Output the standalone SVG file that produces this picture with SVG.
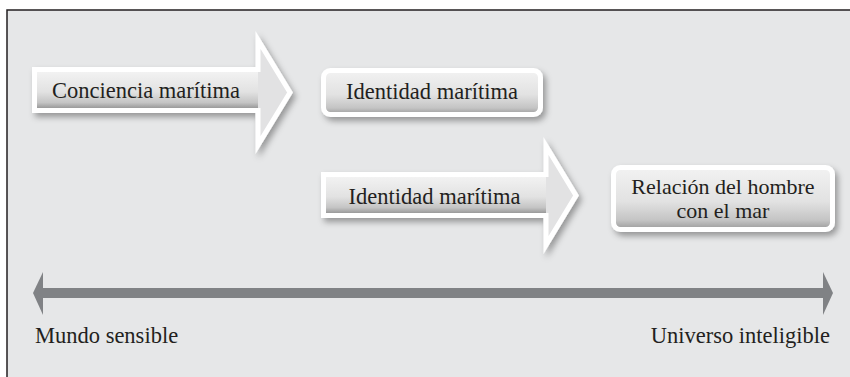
<svg xmlns="http://www.w3.org/2000/svg" width="850" height="377" viewBox="0 0 850 377">
<defs>
<style>
.t{font-family:'Liberation Serif','DejaVu Serif',serif;font-size:22.5px;fill:#231f20}
.arrow{fill:#e2e2e3;stroke:#ffffff;stroke-width:5;stroke-linejoin:miter;filter:url(#sh)}
.box{fill:url(#g);stroke:#ffffff;stroke-width:5;filter:url(#sh)}
.axis{fill:#808285}
</style>
<linearGradient id="g" x1="0" y1="0" x2="0" y2="1">
<stop offset="0" stop-color="#f2f2f2"/>
<stop offset="0.55" stop-color="#e2e2e2"/>
<stop offset="0.85" stop-color="#c4c4c4"/>
<stop offset="1" stop-color="#9a9a9a"/>
</linearGradient>
<filter id="sh" x="-10%" y="-20%" width="125%" height="150%">
<feDropShadow dx="3" dy="4" stdDeviation="3" flood-color="#000" flood-opacity="0.35"/>
</filter>
</defs>
<rect x="0" y="0" width="850" height="377" fill="#ffffff"/>
<rect x="7" y="10" width="843" height="367" fill="#e6e7e8"/>
<path d="M7,377 V10 H850" fill="none" stroke="#231f20" stroke-width="1.5"/>

<g id="node-conciencia">
<path class="arrow" d="M34.5,69.5 H258 V40 L290,92.5 L258,145 V110.5 H34.5 Z"/>
<rect x="37" y="72" width="221" height="36" fill="url(#g)"/>
<text class="t" font-family="Liberation Serif, serif" x="146" y="98" text-anchor="middle">Conciencia marítima</text>
</g>

<g id="node-identidad1">
<rect class="box" x="323.5" y="70.5" width="217" height="44" rx="7"/>
<text class="t" font-family="Liberation Serif, serif" x="432" y="99" text-anchor="middle">Identidad marítima</text>
</g>

<g id="node-identidad2">
<path class="arrow" d="M323.5,174.5 H546 V146 L576,195.5 L546,245 V215.5 H323.5 Z"/>
<rect x="326" y="177" width="220" height="36" fill="url(#g)"/>
<text class="t" font-family="Liberation Serif, serif" x="434.5" y="204" text-anchor="middle">Identidad marítima</text>
</g>

<g id="node-relacion">
<rect class="box" x="613.5" y="167.5" width="219" height="62" rx="7"/>
<text class="t" font-family="Liberation Serif, serif" x="723" y="194" text-anchor="middle" style="font-size:22px">Relación del hombre</text>
<text class="t" font-family="Liberation Serif, serif" x="723" y="218" text-anchor="middle" style="font-size:22px">con el mar</text>
</g>

<g id="connectors">
<rect class="axis" x="43" y="288" width="780" height="10"/>
<path class="axis" d="M43,272 L33,293 L43,315 Z"/>
<path class="axis" d="M823,272 L833,293 L823,315 Z"/>
</g>

<g id="labels">
<text class="t" font-family="Liberation Serif, serif" x="35" y="343">Mundo sensible</text>
<text class="t" font-family="Liberation Serif, serif" x="830" y="343" text-anchor="end">Universo inteligible</text>
</g>
</svg>
